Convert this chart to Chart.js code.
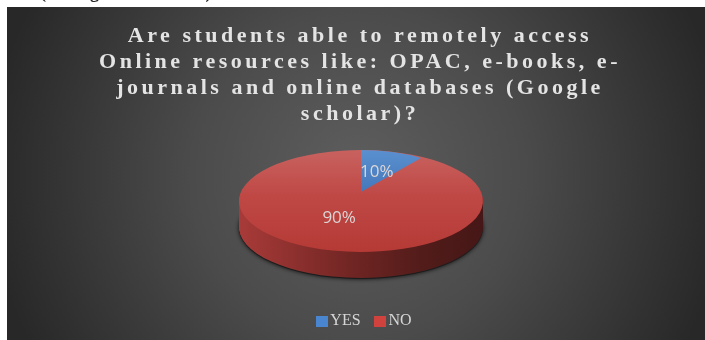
<!DOCTYPE html>
<html>
<head>
<meta charset="utf-8">
<style>
  html, body { margin: 0; padding: 0; background: #fff; }
  canvas { display: block; }
</style>
<script src="https://cdn.jsdelivr.net/npm/chart.js@4/dist/chart.umd.min.js"></script>
</head>
<body>
<canvas id="pie" width="705" height="340"></canvas>
<script>
// Survey answers, in percent
const categories = ['YES', 'NO'];
const shares = [10, 90];
const sliceColors = ['#4a80c4', '#bd4541'];
const titleLines = [
  'Are students able to remotely access',
  'Online resources like: OPAC, e-books, e-',
  'journals and online databases (Google',
  'scholar)?'
];
const captionAbove = '(Google scholar)';

const TAU = Math.PI * 2;
const serif = '"Liberation Serif", "Times New Roman", serif';

// Tilted-disc projection: centre and half-axes on the page
const disc = { cx: 361, cy: 201, rx: 122, ry: 51, depth: 26 };
// The wedge apex sits nearer the back edge because of the perspective
const wedge = { cx: 361, cy: 192, rx: 102, ry: 42 };
const lowerLabel = { cx: 358, cy: 192, rx: 122, ry: 54 };

function project(ctx, arc, view, dy) {
  const r = arc.outerRadius;
  ctx.translate(view.cx, view.cy + (dy || 0));
  ctx.scale(view.rx / r, view.ry / r);
  ctx.translate(-arc.x, -arc.y);
}

// Paints an arc element as the whole disc, keeping its own angles afterwards
function drawWhole(ctx, arc, fill, view, dy) {
  const keep = [arc.startAngle, arc.endAngle, arc.circumference, arc.options.backgroundColor];
  arc.endAngle = arc.startAngle + TAU;
  arc.circumference = TAU;
  arc.options.backgroundColor = fill;
  ctx.save();
  project(ctx, arc, view, dy);
  arc.draw(ctx);
  ctx.restore();
  [arc.startAngle, arc.endAngle, arc.circumference, arc.options.backgroundColor] = keep;
}

function gradientFor(ctx, arc, horizontal, stops) {
  const r = arc.outerRadius;
  const g = horizontal
    ? ctx.createLinearGradient(arc.x - r, 0, arc.x + r, 0)
    : ctx.createLinearGradient(0, arc.y - r, 0, arc.y + r);
  stops.forEach(([at, c]) => g.addColorStop(at, c));
  return g;
}

const backdrop = {
  id: 'backdrop',
  beforeDraw(chart) {
    const { ctx, width, height } = chart;
    ctx.save();
    const g = ctx.createRadialGradient(358, 175, 0, 358, 175, 370);
    g.addColorStop(0, '#5e5e5e');
    g.addColorStop(0.45, '#4b4b4b');
    g.addColorStop(1, '#282828');
    ctx.fillStyle = g;
    ctx.fillRect(7, 7, width - 7, height - 7);
    // Tail of the heading that runs above the panel
    ctx.fillStyle = '#222';
    ctx.font = 'bold 18px ' + serif;
    ctx.letterSpacing = '3px';
    ctx.textBaseline = 'alphabetic';
    ctx.fillText(captionAbove, 40, -2);
    ctx.restore();
  },
  afterLayout(chart) {
    const { ctx, titleBlock, legend } = chart;
    // Seat the legend low in the panel, right of its centre
    legend.left += 6.5;
    legend.right += 6.5;
    legend.top += 3;
    legend.bottom += 3;
    // The heading is tracked out wider than the rest of the text
    const drawTitle = titleBlock.constructor.prototype.draw;
    titleBlock.draw = function () {
      ctx.letterSpacing = '3.5px';
      drawTitle.call(titleBlock);
      ctx.letterSpacing = '0px';
    };
  },
  beforeDatasetDraw() {
    return false;
  },
  afterDatasetsDraw(chart) {
    const { ctx } = chart;
    const [yes, no] = chart.getDatasetMeta(0).data;

    // Cast shadow and rim of the disc
    ctx.save();
    ctx.shadowColor = 'rgba(0,0,0,0.85)';
    ctx.shadowBlur = 4;
    drawWhole(ctx, no, '#1c1c1c', disc, disc.depth + 1);
    ctx.restore();
    const rim = gradientFor(ctx, no, true, [
      [0, '#a83b39'], [0.25, '#8a2f2d'], [0.5, '#6c2422'], [0.75, '#521c1a'], [1, '#451716']
    ]);
    for (let d = disc.depth; d > 0; d--) {
      drawWhole(ctx, no, rim, disc, d);
    }

    // Top face
    const topRed = gradientFor(ctx, no, false, [
      [0, '#c8625f'], [0.45, '#bf4845'], [1, '#b53a36']
    ]);
    drawWhole(ctx, no, topRed, disc, 0);

    const topBlue = gradientFor(ctx, yes, false, [
      [0, '#5a8fd0'], [0.5, '#4478bb'], [1, '#3f73b5']
    ]);
    const flat = yes.options.backgroundColor;
    yes.options.backgroundColor = topBlue;
    ctx.save();
    project(ctx, yes, wedge);
    yes.draw(ctx);
    ctx.restore();
    yes.options.backgroundColor = flat;

    // Percentage labels at each slice's centre point
    const views = [wedge, lowerLabel];
    ctx.save();
    ctx.font = '17px "Open Sans", sans-serif';
    ctx.fillStyle = '#dcd6d6';
    ctx.textAlign = 'center';
    ctx.textBaseline = 'middle';
    [yes, no].forEach((arc, i) => {
      const c = arc.getCenterPoint();
      const v = views[i];
      const px = v.cx + (c.x - arc.x) * v.rx / arc.outerRadius;
      const py = v.cy + (c.y - arc.y) * v.ry / arc.outerRadius;
      ctx.fillText(shares[i] + '%', px, py);
    });
    ctx.restore();
  }
};

// Legend keys are small canvases so that they hug their labels
function keySwatch(color) {
  const c = document.createElement('canvas');
  c.width = 12;
  c.height = 11;
  const g = c.getContext('2d');
  g.fillStyle = color;
  g.fillRect(0, 0, 12, 11);
  return c;
}
const legendColors = ['#4a86d0', '#d0423e'];

new Chart(document.getElementById('pie'), {
  type: 'pie',
  plugins: [backdrop],
  data: {
    labels: categories,
    datasets: [{
      data: shares,
      backgroundColor: sliceColors,
      borderWidth: 0
    }]
  },
  options: {
    responsive: false,
    devicePixelRatio: 1,
    animation: false,
    layout: { padding: { left: 15, right: 0, top: 0, bottom: 4 } },
    plugins: {
      tooltip: { enabled: false },
      title: {
        display: true,
        text: titleLines,
        color: '#e4e4e4',
        font: { family: serif, size: 22, weight: 'bold', lineHeight: 1.18 },
        padding: { top: 23, bottom: 4 }
      },
      legend: {
        position: 'bottom',
        labels: {
          color: '#d6d6d6',
          font: { family: serif, size: 16 },
          usePointStyle: true,
          boxWidth: 1,
          boxHeight: 11,
          padding: 19,
          generateLabels(chart) {
            const base = Chart.overrides.pie.plugins.legend.labels.generateLabels(chart);
            return base.map((item, i) => Object.assign(item, { pointStyle: keySwatch(legendColors[i]) }));
          }
        }
      }
    }
  }
});
</script>
</body>
</html>
